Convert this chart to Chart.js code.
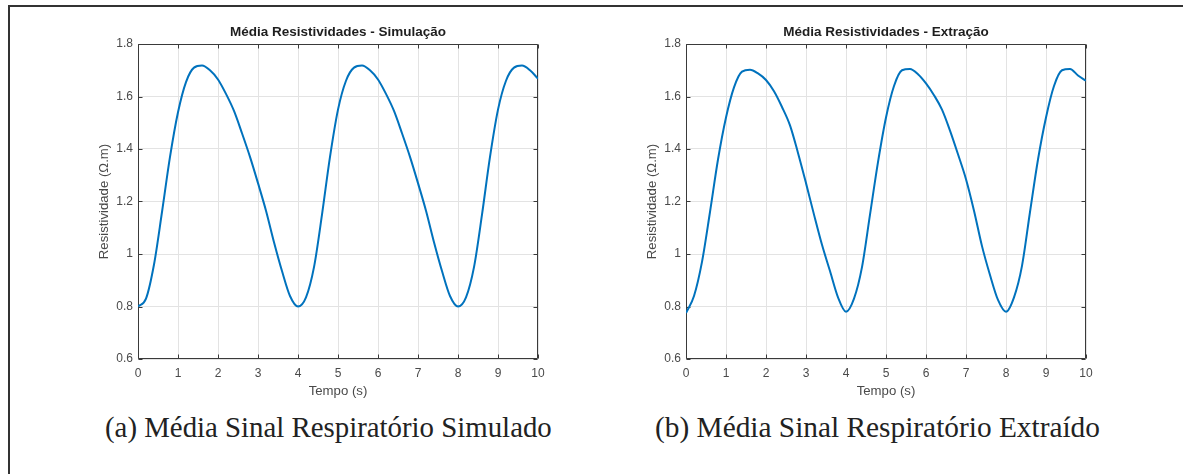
<!DOCTYPE html>
<html>
<head>
<meta charset="utf-8">
<script src="https://cdn.jsdelivr.net/npm/chart.js@4.4.1/dist/chart.umd.min.js"></script>
<style>
  html, body { margin: 0; padding: 0; background: #fff; }
  body { width: 1183px; height: 474px; position: relative; overflow: hidden; }
  #frameTop { position: absolute; left: 8px; top: 5px; width: 1175px; height: 2px; background: #333; }
  #frameLeft { position: absolute; left: 8px; top: 5px; width: 2px; height: 469px; background: #333; }
  .wrap { position: absolute; }
  .cap { position: absolute; top: 412px; white-space: nowrap; font-family: "Liberation Serif", "Times New Roman", serif; color: #222; font-size: 24px; line-height: 30px; }
</style>
</head>
<body>
<div id="frameTop"></div>
<div id="frameLeft"></div>
<div class="wrap" id="wA" style="left:90px; top:14px; width:468px; height:391px;"><canvas id="cA"></canvas></div>
<div class="wrap" id="wB" style="left:638px; top:14px; width:468px; height:391px;"><canvas id="cB"></canvas></div>
<div class="cap" id="capA">(a) Média Sinal Respiratório Simulado</div>
<div class="cap" id="capB">(b) Média Sinal Respiratório Extraído</div>
<script>
// ---- data ----
const tempo = [0,0.2,0.4,0.6,0.8,1.0,1.2,1.4,1.6,1.8,2.0,2.2,2.4,2.6,2.8,3.0,3.2,3.4,3.6,3.8,
               4.0,4.2,4.4,4.6,4.8,5.0,5.2,5.4,5.6,5.8,6.0,6.2,6.4,6.6,6.8,7.0,7.2,7.4,7.6,7.8,
               8.0,8.2,8.4,8.6,8.8,9.0,9.2,9.4,9.6,9.8,10.0];
const simulacao = [0.80,0.83,0.96,1.16,1.37,1.54,1.655,1.71,1.718,1.70,1.665,1.61,1.545,1.46,1.37,1.27,1.165,1.045,0.935,0.84,
                   0.80,0.835,0.95,1.15,1.37,1.55,1.66,1.71,1.718,1.70,1.665,1.61,1.545,1.46,1.37,1.27,1.165,1.045,0.935,0.84,
                   0.80,0.835,0.95,1.15,1.37,1.55,1.66,1.71,1.718,1.70,1.668];
const extracao  = [0.775,0.84,0.97,1.16,1.36,1.52,1.635,1.695,1.702,1.688,1.663,1.62,1.56,1.49,1.385,1.27,1.15,1.035,0.935,0.835,
                   0.78,0.83,0.95,1.15,1.35,1.52,1.64,1.70,1.705,1.685,1.65,1.605,1.55,1.47,1.38,1.285,1.165,1.03,0.92,0.825,
                   0.78,0.835,0.955,1.16,1.36,1.52,1.64,1.70,1.705,1.68,1.66];
const xTickLabels = ['0','1','2','3','4','5','6','7','8','9','10'];
const yTickLabels = ['0.6','0.8','1','1.2','1.4','1.6','1.8'];
const tituloA = 'Média Resistividades - Simulação';
const tituloB = 'Média Resistividades - Extração';
const xTitulo = 'Tempo (s)';
const yTitulo = 'Resistividade (\u03A9.m)';

// ---- styling ----
const SANS = '"Liberation Sans", Arial, Helvetica, sans-serif';
const AXIS_COLOR = '#3a3a3a';
const TEXT_COLOR = '#4a4a4a';
const GRID_COLOR = '#e3e3e3';
const LINE_COLOR = '#0072BD';

const boxPlugin = {
  id: 'matlabBox',
  beforeDatasetsDraw(chart) {
    const {ctx, chartArea: a, scales: {x, y}} = chart;
    ctx.save();
    ctx.strokeStyle = AXIS_COLOR;
    ctx.lineWidth = 1;
    ctx.beginPath();
    const L = Math.round(a.left) + 0.5, R = Math.round(a.right) - 0.5;
    const T = Math.round(a.top) + 0.5, B = Math.round(a.bottom) - 0.5;
    ctx.rect(L, T, R - L, B - T);
    const tl = 4;
    x.ticks.forEach(t => {
      const px = Math.round(x.getPixelForValue(t.value)) + 0.5;
      ctx.moveTo(px, B); ctx.lineTo(px, B - tl);
      ctx.moveTo(px, T); ctx.lineTo(px, T + tl);
    });
    y.ticks.forEach(t => {
      const py = Math.round(y.getPixelForValue(t.value)) + 0.5;
      ctx.moveTo(L, py); ctx.lineTo(L + tl, py);
      ctx.moveTo(R, py); ctx.lineTo(R - tl, py);
    });
    ctx.stroke();
    ctx.restore();
  }
};

function makeChart(id, values, titulo) {
  const pts = tempo.map((t, i) => ({x: t, y: values[i]}));
  return new Chart(document.getElementById(id), {
    type: 'line',
    data: { datasets: [{ data: pts, borderColor: LINE_COLOR, borderWidth: 2, pointRadius: 0,
                         cubicInterpolationMode: 'monotone', fill: false }] },
    options: {
      responsive: true, maintainAspectRatio: false, animation: false,
      layout: { padding: { left: 0, top: 0, right: 20, bottom: 0 } },
      plugins: {
        legend: { display: false }, tooltip: { enabled: false },
        title: { display: true, fullSize: false, text: titulo, color: '#1e1e1e',
                 font: { family: SANS, size: 13.5, weight: 'bold', lineHeight: 1.2 },
                 padding: { top: 9.9, bottom: 3.9 } }
      },
      scales: {
        x: {
          type: 'linear', min: 0, max: 10,
          afterFit: s => { s.height = 46; },
          border: { display: false },
          grid: { color: GRID_COLOR, drawTicks: false, lineWidth: 1 },
          ticks: { stepSize: 1, padding: 7, color: TEXT_COLOR, maxRotation: 0,
                   font: { family: SANS, size: 12 },
                   callback: (v, i) => xTickLabels[i] },
          title: { display: true, text: xTitulo, color: TEXT_COLOR,
                   font: { family: SANS, size: 13.2, lineHeight: 1.2 }, padding: { top: 0, bottom: 5.6 } }
        },
        y: {
          type: 'linear', min: 0.6, max: 1.8,
          afterFit: s => { s.width = 48; },
          border: { display: false },
          grid: { color: GRID_COLOR, drawTicks: false, lineWidth: 1 },
          ticks: { stepSize: 0.2, padding: 5, color: TEXT_COLOR,
                   font: { family: SANS, size: 12 },
                   callback: (v, i) => yTickLabels[i] },
          title: { display: true, text: yTitulo, color: TEXT_COLOR,
                   font: { family: SANS, size: 13.2, lineHeight: 1.2 }, padding: { top: 6.1, bottom: 0 } }
        }
      }
    },
    plugins: [boxPlugin]
  });
}

makeChart('cA', simulacao, tituloA);
makeChart('cB', extracao, tituloB);

// fit captions to their measured width in the reference
function fitCaption(id, left, right) {
  const el = document.getElementById(id);
  const w = el.getBoundingClientRect().width;
  const target = right - left;
  const fs = 24 * target / w;
  el.style.fontSize = fs.toFixed(2) + 'px';
  el.style.left = left + 'px';
  el.style.top = (427 - 15) + 'px';
}
fitCaption('capA', 105, 552);
fitCaption('capB', 655, 1100);
</script>
</body>
</html>
